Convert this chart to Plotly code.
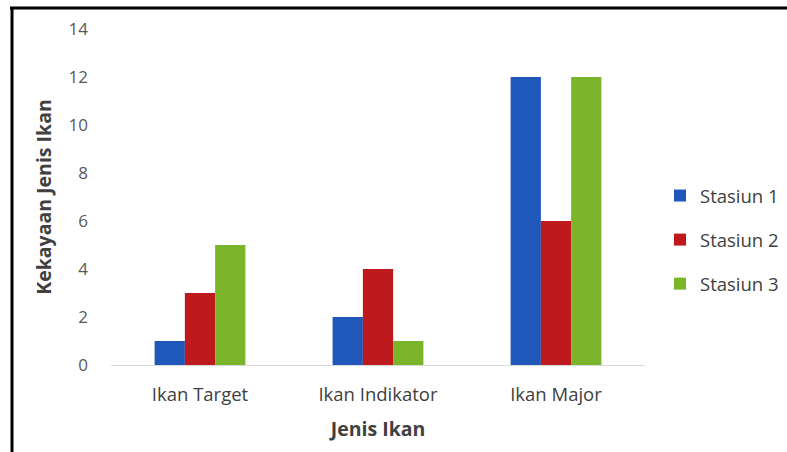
import plotly.graph_objects as go

categories = ["Ikan Target", "Ikan Indikator", "Ikan Major"]
series_names = ["Stasiun 1", "Stasiun 2", "Stasiun 3"]
stasiun_1 = [1, 2, 12]
stasiun_2 = [3, 4, 6]
stasiun_3 = [5, 1, 12]
colors = ["#1F57BA", "#BE1A1E", "#7BB52A"]

FONT = "Open Sans"
W, H = 787, 452
L, R, T, B = 111, 142, 29, 87
pw, ph = W - L - R, H - T - B

fig = go.Figure()
for i, (name, vals) in enumerate(zip(series_names, [stasiun_1, stasiun_2, stasiun_3])):
    fig.add_trace(go.Bar(
        x=categories, y=vals, name=name, legendgroup=name,
        marker=dict(color=colors[i], line=dict(width=0)),
    ))

def px_x(x):
    return (x - L) / pw

def px_y(y):
    return (H - B - y) / ph

fig.update_layout(
    width=W, height=H,
    margin=dict(l=L, r=R, t=T, b=B, autoexpand=False),
    paper_bgcolor="white", plot_bgcolor="white",
    barmode="group", bargap=0.49, bargroupgap=0,
    font=dict(family=FONT, size=17, color="#595959"),
    xaxis=dict(
        showgrid=False, showline=True, linecolor="#D9D9D9", linewidth=1,
        ticks="", tickfont=dict(size=18.5, color="#404040"), ticklabelstandoff=13,
        title=dict(text="<b>Jenis Ikan</b>", font=dict(size=19.5, color="#404040"), standoff=17),
    ),
    yaxis=dict(
        range=[0, 14], dtick=2, showgrid=False, zeroline=False, showline=False,
        ticks="", tickfont=dict(size=17, color="#595959"), ticklabelstandoff=22,
        title=dict(text="<b>Kekayaan Jenis Ikan</b>", font=dict(size=19.5, color="#404040"), standoff=11),
    ),
    legend=dict(
        x=px_x(660), xanchor="left", y=px_y(240), yanchor="middle",
        font=dict(size=18.5, color="#404040"), tracegroupgap=17,
        itemwidth=30, bgcolor="rgba(0,0,0,0)",
    ),
    showlegend=True,
    shapes=[
        dict(type="line", xref="paper", yref="paper", x0=px_x(10), x1=px_x(787),
             y0=px_y(8), y1=px_y(8), line=dict(color="black", width=3)),
        dict(type="line", xref="paper", yref="paper", x0=px_x(12), x1=px_x(12),
             y0=px_y(7), y1=px_y(452), line=dict(color="black", width=3)),
    ],
)

fig.write_html("out.html")
